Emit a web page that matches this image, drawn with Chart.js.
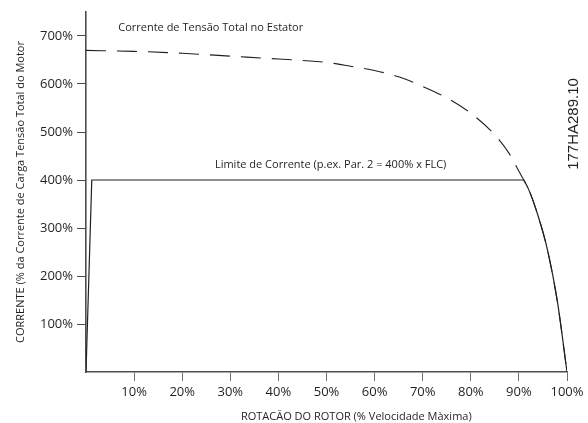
<!DOCTYPE html>
<html><head><meta charset="utf-8">
<script src="https://cdn.jsdelivr.net/npm/chart.js@4"></script>
<style>html,body{margin:0;padding:0;background:#fff}#wrap{width:588px;height:423px;position:relative}</style>
</head><body><div id="wrap"><canvas id="c"></canvas></div>
<script>
// Full-voltage stator current curve (dashed)
const statorSpeed = [0, 10, 20, 30, 40, 50, 55, 60, 65, 70, 75, 80, 85, 88, 90, 92, 94, 96, 98, 100];
const statorCurrent = [670, 668, 664, 658, 652, 645, 637, 628, 615, 595, 571, 539, 494, 455, 418, 381, 325, 252, 147, 0];
// Current limit curve (solid): straight ramp + flat limit, then curved tail
const limitSpeed = [0, 1.2, 91, 92, 94, 96, 98, 100];
const limitCurrent = [0, 400, 400, 381, 325, 252, 147, 0];
const limitBendIndex = 2; // point where the straight part meets the curved tail
// Axis ticks
const xTickValues = [10, 20, 30, 40, 50, 60, 70, 80, 90, 100];
const yTickValues = [100, 200, 300, 400, 500, 600, 700];
// Texts
const yTitle = 'CORRENTE (% da Corrente de Carga Tensão Total do Motor';
const xTitle = 'ROTACÃO DO ROTOR (% Velocidade Màxima)';
const noteTexts = ['Corrente de Tensão Total no Estator', 'Limite de Corrente (p.ex. Par. 2 = 400% x FLC)'];
const noteSpeed = [6.7, 26.8];
const noteCurrent = [717, 431];
const docCode = '177HA289.10';

const INK = '#231f20';
const FONT = '"Open Sans", sans-serif';

const toPts = (xs, ys) => xs.map((x, i) => ({x, y: ys[i]}));
const limitPts = toPts(limitSpeed, limitCurrent);

const textPlugin = {
  id: 'texts',
  afterDraw(chart) {
    const {ctx, scales: {x, y}} = chart;
    ctx.save();
    ctx.fillStyle = INK;
    ctx.font = '11px ' + FONT;
    ctx.textAlign = 'left';
    ctx.textBaseline = 'middle';
    noteTexts.forEach((t, i) => {
      ctx.fillText(t, x.getPixelForValue(noteSpeed[i]), y.getPixelForValue(noteCurrent[i]));
    });
    // x axis title
    ctx.textAlign = 'center';
    ctx.fillText(xTitle, x.getPixelForValue(56.2), chart.height - 6);
    // document code
    ctx.font = '15px "Liberation Sans", Arial, sans-serif';
    ctx.translate(chart.width - 14, 124);
    ctx.rotate(-Math.PI / 2);
    ctx.fillText(docCode, 0, 0);
    ctx.restore();
  }
};

new Chart(document.getElementById('c'), {
  type: 'line',
  data: {
    datasets: [
      {
        data: toPts(statorSpeed, statorCurrent),
        borderColor: INK, borderWidth: 1.1, borderDash: [20, 11],
        pointRadius: 0, cubicInterpolationMode: 'monotone', fill: false
      },
      {
        data: limitPts.slice(0, limitBendIndex + 1),
        borderColor: INK, borderWidth: 1.2, tension: 0,
        pointRadius: 0, fill: false
      },
      {
        data: limitPts.slice(limitBendIndex),
        borderColor: INK, borderWidth: 1.2,
        pointRadius: 0, cubicInterpolationMode: 'monotone', fill: false
      }
    ]
  },
  options: {
    responsive: true, maintainAspectRatio: false, animation: false,
    layout: {padding: {top: 12, right: 21, left: 0, bottom: 0}},
    plugins: {legend: {display: false}, tooltip: {enabled: false}},
    scales: {
      x: {
        type: 'linear', min: 0, max: 100,
        afterBuildTicks: s => { s.ticks = xTickValues.map(v => ({value: v})); },
        afterFit: s => { s.height = 51; },
        ticks: {callback: v => v + '%', color: INK, font: {family: FONT, size: 13}, padding: 3, maxRotation: 0, autoSkip: false},
        grid: {display: true, drawOnChartArea: false, drawTicks: true, tickLength: 9, color: '#6d6e71', lineWidth: 1},
        border: {display: true, color: '#4d4d4f', width: 1.6}
      },
      y: {
        type: 'linear', min: 0, max: 750,
        afterBuildTicks: s => { s.ticks = yTickValues.map(v => ({value: v})); },
        afterFit: s => { s.width = 86; },
        ticks: {callback: v => v + '%', color: INK, font: {family: FONT, size: 13}, padding: 4, autoSkip: false},
        grid: {display: true, drawOnChartArea: false, drawTicks: true, tickLength: 9, color: '#4d4d4f', lineWidth: 1},
        border: {display: true, color: '#4d4d4f', width: 1.6},
        title: {display: true, text: yTitle, color: INK, font: {family: FONT, size: 11}, padding: {top: 14, bottom: 0}}
      }
    }
  },
  plugins: [textPlugin]
});
</script>
</body></html>
